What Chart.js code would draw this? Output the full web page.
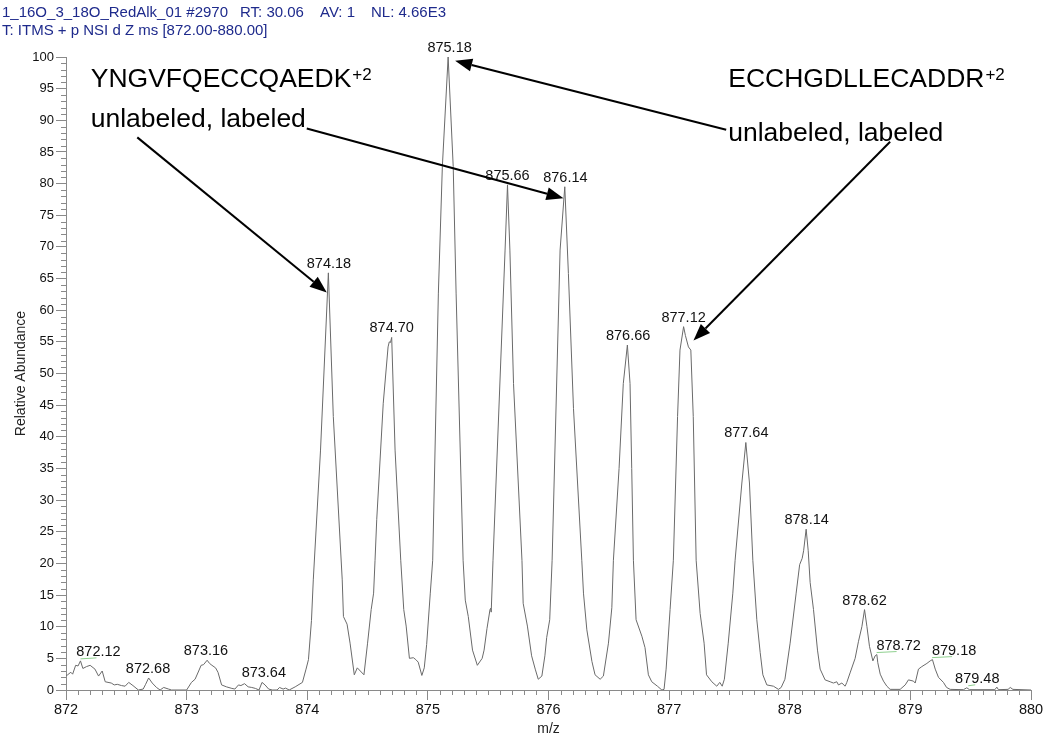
<!DOCTYPE html>
<html><head><meta charset="utf-8">
<script src="https://cdn.jsdelivr.net/npm/chart.js@4.4.1/dist/chart.umd.min.js"></script>
<style>html,body{margin:0;padding:0;background:#fff}#wrap{position:relative;width:1050px;height:742px}</style>
</head><body><div id="wrap"><canvas id="c"></canvas></div>
<script>
// ---- data ----
const mz = [872.00,872.01,872.04,872.055,872.08,872.10,872.12,872.14,872.17,872.20,872.24,872.27,872.30,872.325,872.375,872.40,872.425,872.46,872.49,872.52,872.555,872.60,872.64,872.66,872.685,872.715,872.75,872.78,872.81,872.85,872.875,
873.00,873.04,873.07,873.10,873.12,873.14,873.17,873.19,873.21,873.24,873.26,873.29,873.33,873.375,873.40,873.43,873.45,873.48,873.51,873.54,873.57,873.60,873.625,873.65,873.68,873.71,873.75,873.77,873.80,873.82,873.85,873.90,873.96,873.99,
874.01,874.035,874.05,874.11,874.175,874.216,874.29,874.30,874.33,874.355,874.39,874.415,874.44,874.47,874.50,874.53,874.55,874.562,874.576,874.63,874.67,874.68,874.69,874.70,874.728,874.775,874.80,874.82,874.847,874.88,874.90,874.92,874.95,874.97,874.99,
875.02,875.04,875.087,875.12,875.168,875.21,875.234,875.292,875.31,875.335,875.37,875.41,875.45,875.466,875.49,875.515,875.52,875.525,875.54,875.64,875.66,875.68,875.71,875.78,875.79,875.825,875.86,875.89,875.915,875.945,875.97,875.985,
876.01,876.03,876.096,876.135,876.165,876.207,876.276,876.29,876.318,876.36,876.386,876.428,876.455,876.497,876.525,876.538,876.585,876.62,876.654,876.676,876.69,876.704,876.726,876.774,876.80,876.828,876.856,876.903,876.94,876.958,876.975,
877.008,877.035,877.07,877.09,877.12,877.135,877.16,877.18,877.20,877.224,877.257,877.29,877.31,877.354,877.395,877.42,877.44,877.458,877.49,877.528,877.547,877.603,877.636,877.666,877.694,877.727,877.755,877.777,877.81,877.865,877.906,877.929,877.96,
878.003,878.053,878.082,878.103,878.115,878.136,878.153,878.169,878.197,878.23,878.252,878.293,878.335,878.362,878.39,878.404,878.432,878.459,878.473,878.50,878.542,878.57,878.598,878.62,878.64,878.661,878.689,878.708,878.722,878.73,878.75,878.777,878.805,878.832,878.915,878.957,878.984,
879.026,879.04,879.067,879.095,879.137,879.164,879.183,879.206,879.233,879.274,879.30,879.33,879.44,879.468,879.49,879.70,879.717,879.73,879.81,879.828,879.85,880.00];
const abundance = [2.3,2.35,2.8,2.5,3.9,3.8,4.6,3.4,3.7,3.9,3.3,2.2,3.0,1.3,1.1,0.8,0.9,0.7,0.6,1.2,0.7,0,0.15,0.9,1.9,1.1,0.4,0,0.4,0.15,0,
0,1.2,1.7,3.0,3.9,4.0,4.7,4.2,3.9,3.5,2.8,0.8,0.5,0.25,0.15,0.8,0.7,1.0,0.5,0.4,0.25,0,1.2,0.8,0.15,0,0,0.4,0.15,0.3,0,0.5,1.2,3.3,
4.8,11,17.4,37.9,65.9,43.2,17.4,11.6,10.4,7.4,2.4,3.5,3.0,2.4,7.4,12.7,15.3,20.5,26.9,45.3,54.2,55.0,54.9,55.7,37.9,20.5,12.7,10.1,5.0,5.1,4.8,4.4,2.3,3.5,7.2,
15.3,20.5,62.7,82.7,100,82.7,62.7,20.5,14.2,11.6,6.3,3.9,5.0,6.3,9.7,12.7,12.9,12.3,20.5,69.5,79.8,69.5,48.4,20.5,13.7,10.1,5.4,3.3,1.7,2.2,5.4,8.3,
11.1,20.5,69.5,79.5,65.8,44.5,20.5,15.3,9.5,4.5,2.4,1.7,2.2,7.4,13,20.5,35,48.4,54.5,48.4,35,20.5,11.1,8.5,6.7,2.4,1.3,0.6,0,0.1,3.3,
12.7,20.5,43.2,53.7,57.4,56,54.2,53.7,43.2,20.5,12.1,7.4,2.4,1.3,0.6,1.2,0.6,1.7,7.4,15.3,20.5,32.7,39.1,32.7,20.5,11.1,5.9,2.4,0.8,0.6,0.1,0.4,1.7,
7.4,15.3,19.8,20.8,22,25.4,22,17,12.7,6.3,3.3,1.6,1.3,1.1,1.3,0.8,1.1,0.6,1.2,2.7,5.0,7.7,10.0,12.7,10.0,6.9,4.6,5.4,5.6,4.3,2.5,1.4,0.6,0.1,0.1,0.8,1.6,
1.4,1.1,3.3,3.7,4.2,4.6,4.8,3.3,2.0,1.2,0.4,0.1,0.05,0.35,0.05,0.05,0.45,0.05,0.1,0.4,0.1,0];

const xTickValues = [872,873,874,875,876,877,878,879,880];
const yTickValues = [0,5,10,15,20,25,30,35,40,45,50,55,60,65,70,75,80,85,90,95,100];

const peakLabelMz = [872.12,872.68,873.16,873.64,874.18,874.70,875.18,875.66,876.14,876.66,877.12,877.64,878.14,878.62,878.72,879.18,879.48];
const peakLabelAbund = [4.6,1.9,4.7,1.2,65.9,55.7,100,79.8,79.5,54.5,57.4,39.1,25.4,12.7,5.6,4.8,0.35];

const peptideNames = ['YNGVFQECCQAEDK','ECCHGDLLECADDR'];
const peptideCharge = ['+2','+2'];
const labelStateText = 'unlabeled, labeled';

const headerLine1 = ['1_16O_3_18O_RedAlk_01 #2970','RT: 30.06','AV: 1','NL: 4.66E3'];
const headerLine2 = 'T: ITMS + p NSI d Z ms [872.00-880.00]';
const xTitle = 'm/z';
const yTitle = 'Relative Abundance';

// ---- presentation (not data) ----
const FONT = "'Liberation Sans', Arial, Helvetica, sans-serif";
const labelShift = {'872.12':18,'878.72':22,'879.18':22,'879.48':9};
// annotations in data coordinates
const textAnchors = [
  {x:872.205, y:95.3, kind:'title', idx:0},
  {x:872.205, y:88.9, kind:'sub'},
  {x:877.49, y:95.3, kind:'title', idx:1},
  {x:877.49, y:86.8, kind:'sub'}
];
const arrows = [
  {from:[872.591,87.3], to:[874.162,62.8]},
  {from:[873.996,88.7], to:[876.124,77.7]},
  {from:[877.473,88.5], to:[875.226,99.4]},
  {from:[878.832,86.6], to:[877.202,55.2]}
];

const deco = {
  id:'deco',
  afterDraw(chart){
    const {ctx, chartArea:ca, scales:{x,y}} = chart;
    ctx.save();
    // minor ticks
    ctx.strokeStyle = '#8a8a8a'; ctx.lineWidth = 1;
    ctx.beginPath();
    for (let i = 1; i < Math.round((x.max - x.min)*10); i++) {
      if (i % 10 === 0) continue;
      const px = Math.round(x.getPixelForValue(x.min + i/10)) + 0.5;
      ctx.moveTo(px, ca.bottom); ctx.lineTo(px, ca.bottom + 5);
    }
    for (let i = 1; i < y.max; i++) {
      if (i % 5 === 0) continue;
      const py = Math.round(y.getPixelForValue(i)) + 0.5;
      ctx.moveTo(ca.left - 5, py); ctx.lineTo(ca.left, py);
    }
    ctx.stroke();

    // peak labels
    ctx.font = '14.5px ' + FONT; ctx.fillStyle = '#111'; ctx.textAlign = 'center'; ctx.textBaseline = 'alphabetic';
    peakLabelMz.forEach((m, i) => {
      const key = m.toFixed(2);
      const sh = labelShift[key] || 0;
      const px = x.getPixelForValue(m), py = y.getPixelForValue(peakLabelAbund[i]);
      const lx = px + sh, ly = py - 5;
      if (sh) {
        ctx.strokeStyle = '#8fd08f'; ctx.lineWidth = 1;
        ctx.beginPath(); ctx.moveTo(px, py - 2); ctx.lineTo(lx - 2, ly + 2); ctx.stroke();
      }
      ctx.fillText(key, lx, ly);
    });

    // annotation text
    ctx.fillStyle = '#000'; ctx.textAlign = 'left';
    textAnchors.forEach(t => {
      const px = x.getPixelForValue(t.x), py = y.getPixelForValue(t.y);
      if (t.kind === 'title') {
        ctx.font = '26.5px ' + FONT;
        ctx.fillText(peptideNames[t.idx], px, py);
        const w = ctx.measureText(peptideNames[t.idx]).width;
        ctx.font = '17px ' + FONT;
        ctx.fillText(peptideCharge[t.idx], px + w + 1, py - 7);
      } else {
        ctx.font = '26.5px ' + FONT;
        ctx.fillText(labelStateText, px, py);
      }
    });

    // arrows
    ctx.strokeStyle = '#000'; ctx.fillStyle = '#000'; ctx.lineWidth = 2;
    arrows.forEach(a => {
      const x1 = x.getPixelForValue(a.from[0]), y1 = y.getPixelForValue(a.from[1]);
      const x2 = x.getPixelForValue(a.to[0]), y2 = y.getPixelForValue(a.to[1]);
      const ang = Math.atan2(y2 - y1, x2 - x1);
      const L = 17, W = 6.5;
      const bx = x2 - L*Math.cos(ang), by = y2 - L*Math.sin(ang);
      ctx.beginPath(); ctx.moveTo(x1, y1); ctx.lineTo(bx, by); ctx.stroke();
      ctx.beginPath();
      ctx.moveTo(x2, y2);
      ctx.lineTo(bx + W*Math.sin(ang), by - W*Math.cos(ang));
      ctx.lineTo(bx - W*Math.sin(ang), by + W*Math.cos(ang));
      ctx.closePath(); ctx.fill();
    });

    // axis titles
    ctx.fillStyle = '#222'; ctx.textAlign = 'center'; ctx.textBaseline = 'middle';
    ctx.font = '14px ' + FONT;
    ctx.fillText(xTitle, (ca.left + ca.right)/2, 729);
    ctx.save();
    ctx.translate(21, (ca.top + ca.bottom)/2);
    ctx.rotate(-Math.PI/2);
    ctx.font = '14px ' + FONT;
    ctx.fillText(yTitle, 0, 0);
    ctx.restore();

    // header
    ctx.fillStyle = '#1e2a8c'; ctx.textAlign = 'left'; ctx.textBaseline = 'alphabetic';
    ctx.font = '15px ' + FONT;
    const hx = [2, 240, 320, 371];
    headerLine1.forEach((s, i) => ctx.fillText(s, hx[i], 17));
    ctx.fillText(headerLine2, 2, 34.5);
    ctx.restore();
  }
};

new Chart(document.getElementById('c'), {
  type: 'line',
  data: {
    datasets: [{
      data: mz.map((m, i) => ({x: m, y: abundance[i]})),
      borderColor: '#6a6a6a', borderWidth: 1, pointRadius: 0, fill: false, tension: 0
    }]
  },
  options: {
    responsive: true, maintainAspectRatio: false, animation: false,
    layout: {padding: {left: 0, right: 19, top: 57, bottom: 0}},
    plugins: {legend: {display: false}, tooltip: {enabled: false}},
    scales: {
      x: {
        type: 'linear', min: xTickValues[0], max: xTickValues[xTickValues.length-1],
        afterBuildTicks: s => { s.ticks = xTickValues.map(v => ({value: v})); },
        afterFit: s => { s.height = 52; },
        ticks: {font: {family: FONT, size: 14.5}, color: '#111', padding: 1, maxRotation: 0, autoSkip: false, callback: v => String(v)},
        grid: {drawOnChartArea: false, tickLength: 10, color: '#8a8a8a'},
        border: {color: '#8a8a8a'}
      },
      y: {
        min: yTickValues[0], max: yTickValues[yTickValues.length-1],
        afterBuildTicks: s => { s.ticks = yTickValues.map(v => ({value: v})); },
        afterFit: s => { s.width = 66; },
        ticks: {font: {family: FONT, size: 13}, color: '#111', padding: 2, autoSkip: false, callback: v => String(v)},
        grid: {drawOnChartArea: false, tickLength: 10, color: '#8a8a8a'},
        border: {color: '#8a8a8a'}
      }
    }
  },
  plugins: [deco]
});
</script></body></html>
